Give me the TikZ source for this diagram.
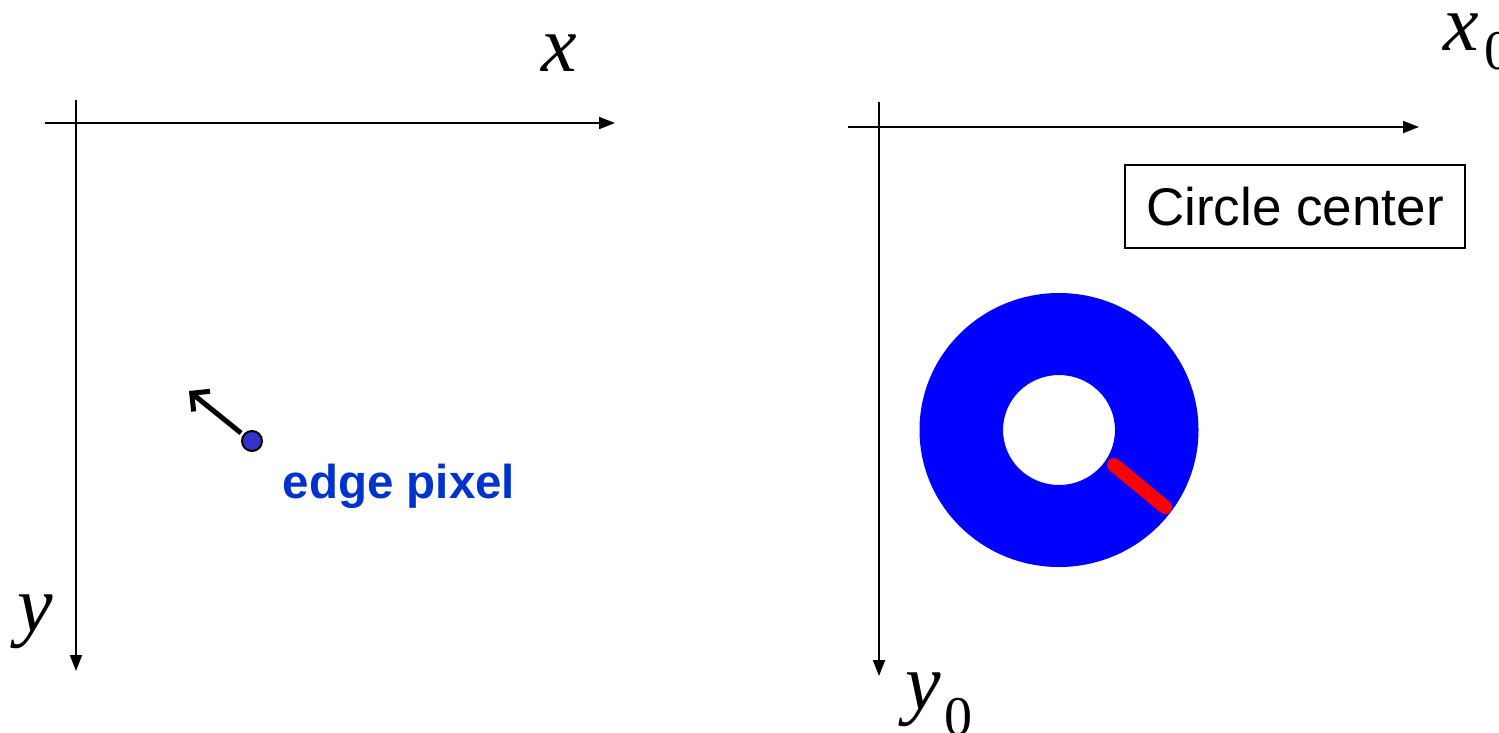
\documentclass[tikz,border=0pt]{standalone}
\usepackage{fontspec}
\setmainfont{Liberation Sans}
\newfontfamily\tnr{Liberation Serif}
\usetikzlibrary{arrows.meta}
\definecolor{ringblue}{HTML}{0000FF}
\definecolor{labelblue}{HTML}{0033CC}
\definecolor{dotblue}{HTML}{3333CC}
\tikzset{
  axis/.style={line width=2pt,-{Triangle[length=16pt,width=12pt]}},
  varlabel/.style={inner sep=0pt,font=\tnr\itshape\fontsize{80}{80}\selectfont},
  sublabel/.style={inner sep=0pt,font=\tnr\fontsize{56}{56}\selectfont},
}
\begin{document}
\begin{tikzpicture}[x=1pt,y=-1pt]
\useasboundingbox (0,0) rectangle (1499,732);
% left axes
\coordinate (lxs) at (45,123);
\coordinate (lxe) at (615,123);
\coordinate (lys) at (76,100);
\coordinate (lye) at (76,671);
\draw[axis] (lxs) -- (lxe);
\draw[axis] (lys) -- (lye);
\node[varlabel] (xl) at (559,53) {x};
\node[varlabel] (yl) at (35,622) {y};
% edge pixel
\node[circle,draw=black,line width=2pt,fill=dotblue,minimum size=20pt,inner sep=0pt] (dot) at (252,441) {};
\coordinate (arrtip) at (189,391);
\draw[line width=5pt,-{Straight Barb[length=13pt,width=26pt,line width=5pt]}] (241,433) -- (arrtip);
\node[inner sep=0pt,text=labelblue,font=\bfseries\fontsize{47.5}{47.5}\selectfont] (ep) at (399,486) {edge pixel};
% right axes
\coordinate (rxs) at (848,127);
\coordinate (rxe) at (1419,127);
\coordinate (rys) at (879,102);
\coordinate (rye) at (879,676);
\draw[axis] (rxs) -- (rxe);
\draw[axis] (rys) -- (rye);
\node[varlabel] (x0) at (1461,32) {x};
\node[sublabel,anchor=west] (x0s) at (1484,51) {0};
\node[varlabel] (y0) at (923,700) {y};
\node[sublabel,anchor=west] (y0s) at (944,717) {0};
% circle center box
\node[draw=black,line width=1.5pt,minimum width=340pt,minimum height=83pt,inner sep=0pt,font=\fontsize{53}{53}\selectfont] (cc) at (1295,206.5) {Circle center};
% ring
\fill[ringblue,even odd rule] (1059,430) ellipse [x radius=139.5pt,y radius=137pt] (1059,430) ellipse [x radius=56pt,y radius=55pt];
\coordinate (ra) at (1114,465);
\coordinate (rb) at (1165,507);
\draw[red,line width=14pt,line cap=round] (ra) -- (rb);
\end{tikzpicture}
\end{document}
